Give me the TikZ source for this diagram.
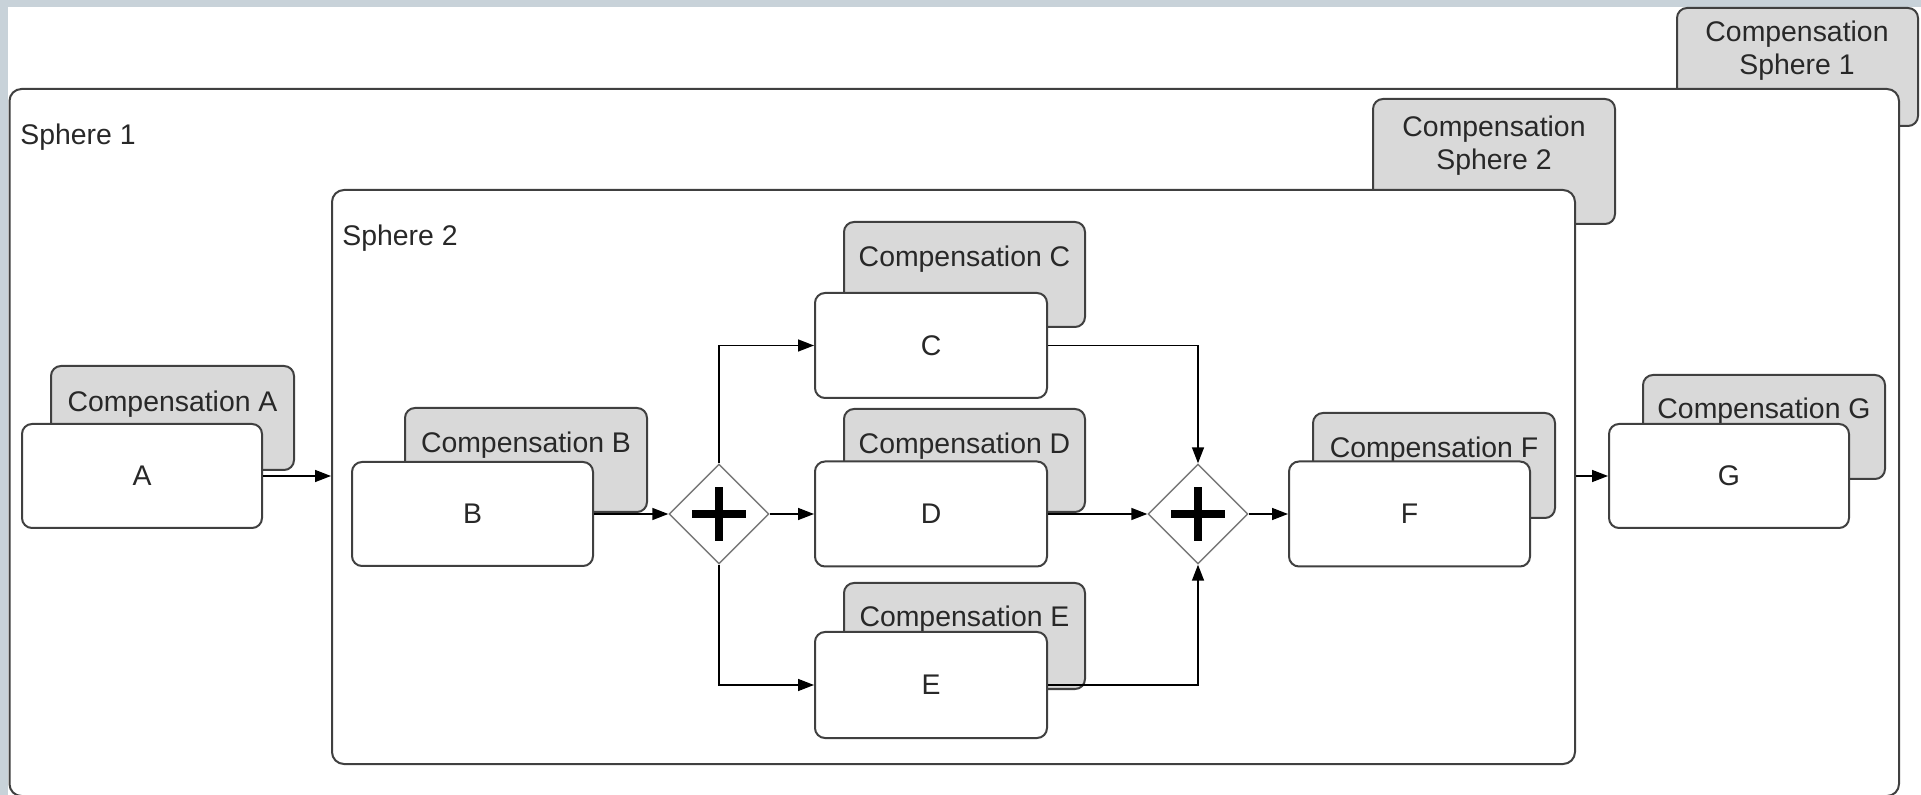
\documentclass[tikz,border=0pt]{standalone}
\usepackage{fontspec}
\setmainfont{Liberation Sans}
\usetikzlibrary{shapes.geometric,arrows.meta}
\definecolor{canvasedge}{RGB}{200,210,217}
\definecolor{outline}{RGB}{64,64,64}
\definecolor{compfill}{RGB}{217,217,217}
\definecolor{gwline}{RGB}{120,120,120}
\definecolor{ink}{RGB}{40,40,40}

\begin{document}
\begin{tikzpicture}[x=0.5pt,y=-0.5pt,
  box/.style={draw=outline, line width=1pt, rounded corners=5pt, inner sep=0pt,
    font=\fontsize{14.2}{17}\selectfont, text=ink},
  sphere/.style={box, fill=white, rounded corners=6pt},
  task/.style={box, fill=white},
  comp/.style={box, fill=compfill},
  txt/.style={font=\fontsize{14.2}{16.5}\selectfont, text=ink, inner sep=0pt, align=center},
  gateway/.style={diamond, draw=gwline, line width=0.7pt, fill=white,
    minimum width=50pt, minimum height=50pt, inner sep=0pt,
    path picture={
      \draw[line width=4pt, black]
        ([xshift=-13.5pt]path picture bounding box.center) --
        ([xshift=13.5pt]path picture bounding box.center);
      \draw[line width=4pt, black]
        ([yshift=-13.5pt]path picture bounding box.center) --
        ([yshift=13.5pt]path picture bounding box.center);
    }},
  flow/.style={draw=black, line width=0.75pt, -{Triangle[length=8pt,width=6pt]}}
]
% canvas
\useasboundingbox (0,0) rectangle (1921,795);
\fill[canvasedge] (0,0) rectangle (1921,795);
\fill[white] (8,7) rectangle (1921,795);

% outer compensation sphere
\node[comp, minimum width=120.5pt, minimum height=59pt] (cS1) at (1797.5,67) {};
\node[txt] (cS1t) at (1797,51) {Compensation\\Sphere 1};
\node[sphere, minimum width=944.75pt, minimum height=353.5pt] (S1) at (954.25,442.5) {};
\node[txt, anchor=west] (S1t) at (20,137) {Sphere 1};

% inner compensation sphere
\node[comp, minimum width=121pt, minimum height=62.5pt] (cS2) at (1494,161.5) {};
\node[txt] (cS2t) at (1494,145.5) {Compensation\\Sphere 2};
\node[sphere, minimum width=621.5pt, minimum height=287pt] (S2) at (953.5,477) {};
\node[txt, anchor=west] (S2t) at (342,238) {Sphere 2};

% compensation activities
\node[comp, minimum width=121.5pt, minimum height=52pt] (cA) at (172.5,418) {};
\node[txt] (cAt) at (172.5,404) {Compensation A};
\node[comp, minimum width=121pt, minimum height=52pt] (cB) at (526,460) {};
\node[txt] (cBt) at (526,445) {Compensation B};
\node[comp, minimum width=120.5pt, minimum height=52.5pt] (cC) at (964.5,274.5) {};
\node[txt] (cCt) at (964.5,259) {Compensation C};
\node[comp, minimum width=120.5pt, minimum height=51.5pt] (cD) at (964.5,460.5) {};
\node[txt] (cDt) at (964.5,446) {Compensation D};
\node[comp, minimum width=120.5pt, minimum height=53pt] (cE) at (964.5,636) {};
\node[txt] (cEt) at (964.5,619) {Compensation E};
\node[comp, minimum width=121pt, minimum height=52.5pt] (cF) at (1434,465.5) {};
\node[txt] (cFt) at (1434,450) {Compensation F};
\node[comp, minimum width=121pt, minimum height=52pt] (cG) at (1764,427) {};
\node[txt] (cGt) at (1764,411) {Compensation G};

% activities
\node[task, minimum width=120pt, minimum height=52pt] (A) at (142,476) {A};
\node[task, minimum width=120.5pt, minimum height=52pt] (B) at (472.5,514) {B};
\node[task, minimum width=116pt, minimum height=52.5pt] (C) at (931,345.5) {C};
\node[task, minimum width=116pt, minimum height=52.5pt] (D) at (931,514) {D};
\node[task, minimum width=116pt, minimum height=53pt] (E) at (931,685) {E};
\node[task, minimum width=120.5pt, minimum height=52.5pt] (F) at (1409.5,514) {F};
\node[task, minimum width=120pt, minimum height=52pt] (G) at (1729,476) {G};

% parallel gateways
\node[gateway] (g1) at (719,514) {};
\node[gateway] (g2) at (1198,514) {};

% sequence flows
\draw[flow] (A.east) -- (A.east -| S2.west);
\draw[flow] (B.east) -- (g1.west);
\draw[flow] (g1.north) |- (C.west);
\draw[flow] (g1.east) -- (D.west);
\draw[flow] (g1.south) |- (E.west);
\draw[flow] (C.east) -| (g2.north);
\draw[flow] (D.east) -- (g2.west);
\draw[flow] (E.east) -| (g2.south);
\draw[flow] (g2.east) -- (F.west);
\draw[flow] (S2.east |- G.west) -- (G.west);
\end{tikzpicture}
\end{document}
